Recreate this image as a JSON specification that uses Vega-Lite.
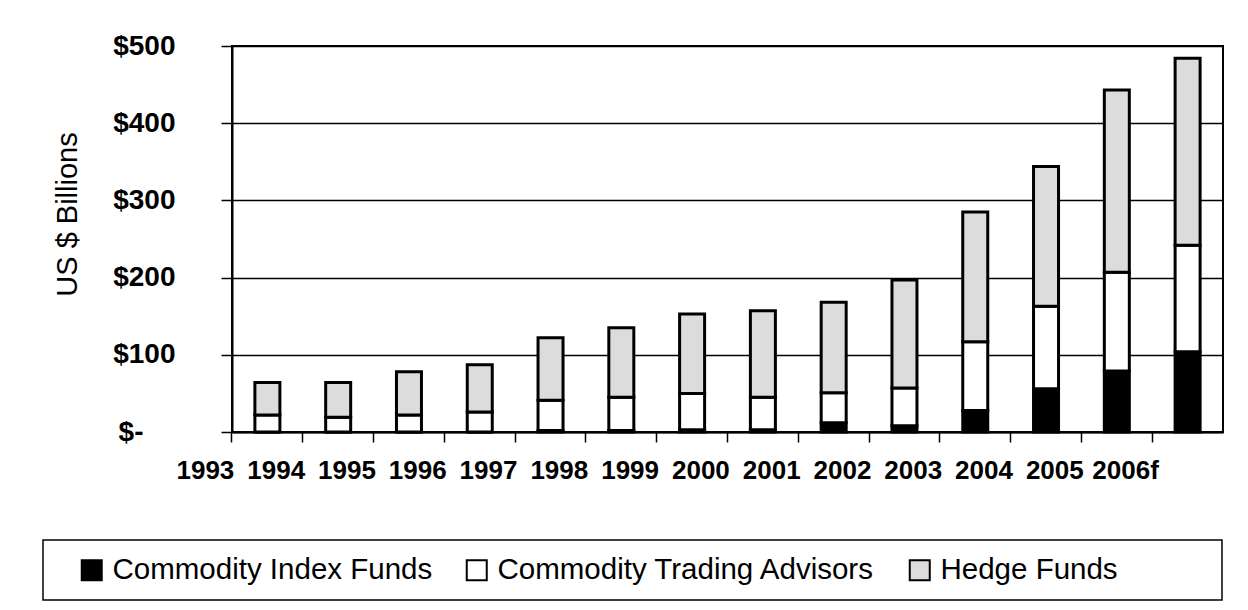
{
  "$schema": "https://vega.github.io/schema/vega-lite/v6.json",
  "autosize": "none",
  "width": 991,
  "height": 386,
  "padding": {"left": 232, "top": 46, "right": 25, "bottom": 178},
  "background": "white",
  "config": {
    "font": "Liberation Sans",
    "view": {"stroke": "black", "strokeWidth": 2}
  },
  "data": {
    "values": [
      {"year": "1993", "series": "Commodity Index Funds", "value": 0},
      {"year": "1993", "series": "Commodity Trading Advisors", "value": 22},
      {"year": "1993", "series": "Hedge Funds", "value": 42},
      {"year": "1994", "series": "Commodity Index Funds", "value": 0},
      {"year": "1994", "series": "Commodity Trading Advisors", "value": 19},
      {"year": "1994", "series": "Hedge Funds", "value": 45},
      {"year": "1995", "series": "Commodity Index Funds", "value": 0},
      {"year": "1995", "series": "Commodity Trading Advisors", "value": 22},
      {"year": "1995", "series": "Hedge Funds", "value": 56},
      {"year": "1996", "series": "Commodity Index Funds", "value": 0},
      {"year": "1996", "series": "Commodity Trading Advisors", "value": 26},
      {"year": "1996", "series": "Hedge Funds", "value": 61},
      {"year": "1997", "series": "Commodity Index Funds", "value": 2},
      {"year": "1997", "series": "Commodity Trading Advisors", "value": 39},
      {"year": "1997", "series": "Hedge Funds", "value": 81},
      {"year": "1998", "series": "Commodity Index Funds", "value": 2},
      {"year": "1998", "series": "Commodity Trading Advisors", "value": 43},
      {"year": "1998", "series": "Hedge Funds", "value": 90},
      {"year": "1999", "series": "Commodity Index Funds", "value": 3},
      {"year": "1999", "series": "Commodity Trading Advisors", "value": 47},
      {"year": "1999", "series": "Hedge Funds", "value": 103},
      {"year": "2000", "series": "Commodity Index Funds", "value": 3},
      {"year": "2000", "series": "Commodity Trading Advisors", "value": 42},
      {"year": "2000", "series": "Hedge Funds", "value": 112},
      {"year": "2001", "series": "Commodity Index Funds", "value": 12},
      {"year": "2001", "series": "Commodity Trading Advisors", "value": 39},
      {"year": "2001", "series": "Hedge Funds", "value": 117},
      {"year": "2002", "series": "Commodity Index Funds", "value": 8},
      {"year": "2002", "series": "Commodity Trading Advisors", "value": 49},
      {"year": "2002", "series": "Hedge Funds", "value": 140},
      {"year": "2003", "series": "Commodity Index Funds", "value": 28},
      {"year": "2003", "series": "Commodity Trading Advisors", "value": 89},
      {"year": "2003", "series": "Hedge Funds", "value": 168},
      {"year": "2004", "series": "Commodity Index Funds", "value": 56},
      {"year": "2004", "series": "Commodity Trading Advisors", "value": 107},
      {"year": "2004", "series": "Hedge Funds", "value": 181},
      {"year": "2005", "series": "Commodity Index Funds", "value": 79},
      {"year": "2005", "series": "Commodity Trading Advisors", "value": 128},
      {"year": "2005", "series": "Hedge Funds", "value": 236},
      {"year": "2006f", "series": "Commodity Index Funds", "value": 104},
      {"year": "2006f", "series": "Commodity Trading Advisors", "value": 138},
      {"year": "2006f", "series": "Hedge Funds", "value": 242}
    ]
  },
  "mark": {"type": "bar", "size": 25, "stroke": "black", "strokeWidth": 3},
  "encoding": {
    "x": {
      "field": "year",
      "type": "ordinal",
      "scale": {"paddingInner": 0, "paddingOuter": 0},
      "axis": {
        "title": null,
        "bandPosition": 0,
        "labelAngle": 0,
        "labelOffset": -62,
        "labelFontSize": 26,
        "labelFontWeight": "bold",
        "labelColor": "black",
        "labelPadding": 15,
        "labelOverlap": false,
        "labelBound": false,
        "tickSize": 10,
        "tickColor": "black",
        "tickWidth": 1.5,
        "domainColor": "black",
        "domainWidth": 2,
        "grid": false
      }
    },
    "y": {
      "field": "value",
      "type": "quantitative",
      "stack": "zero",
      "scale": {"domain": [0, 500], "nice": false},
      "axis": {
        "title": "US $ Billions",
        "titleFontSize": 29,
        "titleFontWeight": "normal",
        "titleColor": "black",
        "titleX": -165,
        "titleY": 168,
        "titleBaseline": "middle",
        "values": [0, 100, 200, 300, 400, 500],
        "labelExpr": "datum.value == 0 ? '$-' : '$' + datum.value",
        "labelFontSize": 28,
        "labelFontWeight": "bold",
        "labelColor": "black",
        "labelPadding": {"condition": {"test": "datum.value == 0", "value": 78}, "value": 46},
        "tickSize": 11,
        "tickColor": "black",
        "tickWidth": 1.5,
        "domainColor": "black",
        "domainWidth": 2,
        "grid": true,
        "gridColor": "black",
        "gridWidth": 1.5
      }
    },
    "order": {"field": "series", "type": "nominal", "sort": "ascending"},
    "color": {
      "field": "series",
      "type": "nominal",
      "scale": {
        "domain": ["Commodity Index Funds", "Commodity Trading Advisors", "Hedge Funds"],
        "range": ["#000000", "#ffffff", "#dcdcdc"]
      },
      "legend": {
        "title": null,
        "orient": "none",
        "direction": "horizontal",
        "legendX": -189,
        "legendY": 494,
        "padding": 15,
        "strokeColor": "black",
        "fillColor": "white",
        "symbolType": "square",
        "symbolSize": 400,
        "symbolStrokeColor": "black",
        "symbolStrokeWidth": 2,
        "symbolOffset": 19,
        "labelOffset": 6,
        "columnPadding": 10,
        "labelFontSize": 29.5,
        "labelColor": "black",
        "labelLimit": 600,
        "labelExpr": "datum.label == 'Hedge Funds' ? 'Hedge Funds\u2003\u2003\u2003\u200b' : datum.label",
        "encode": {"legend": {"update": {"strokeWidth": {"value": 1.5}}}}
      }
    }
  }
}
